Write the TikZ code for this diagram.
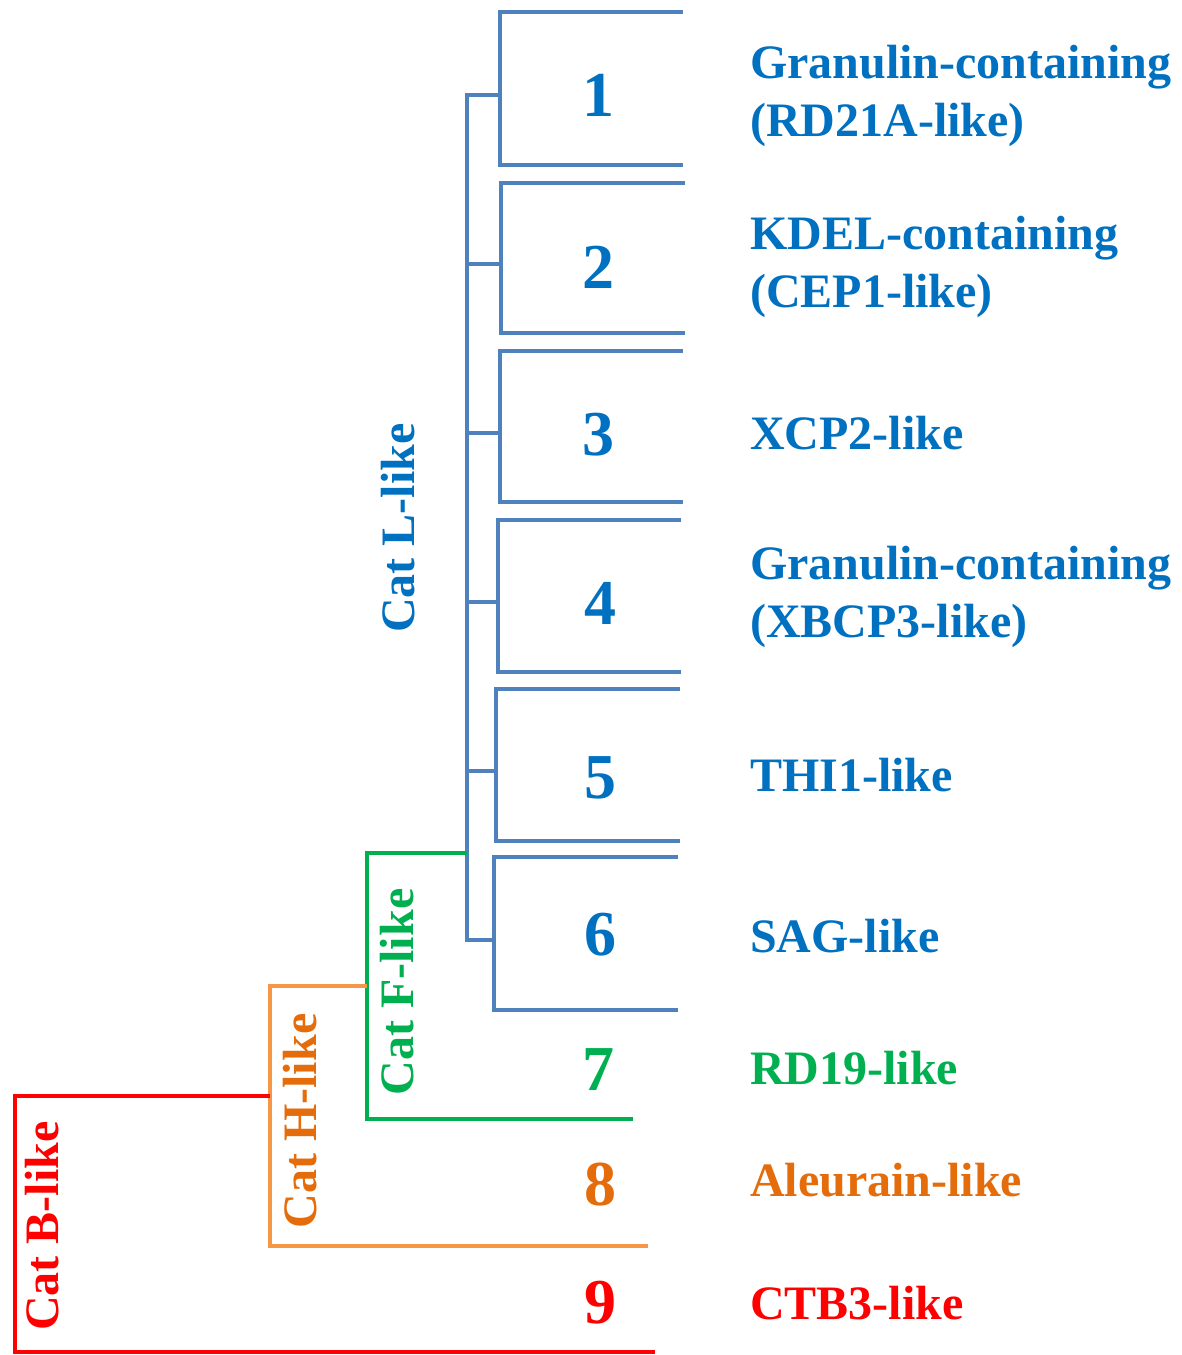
\documentclass[tikz,border=0pt]{standalone}
\usepackage{fontspec}
\setmainfont{Liberation Serif}
\definecolor{lnblue}{HTML}{4F81BD}
\definecolor{txblue}{HTML}{0070C0}
\definecolor{lngreen}{HTML}{00B050}
\definecolor{txgreen}{HTML}{00B050}
\definecolor{lnorange}{HTML}{F79646}
\definecolor{txorange}{HTML}{E46C0A}
\definecolor{lnred}{HTML}{FF0000}
\begin{document}
\begin{tikzpicture}[x=1pt,y=-1pt,
  branch/.style={line width=4.5pt},
  num/.style={font=\fontsize{64}{64}\selectfont\bfseries, inner sep=0},
  lab/.style={font=\fontsize{48}{58}\selectfont\bfseries, anchor=base west, align=left, inner sep=0},
  cat/.style={font=\fontsize{48}{48}\selectfont\bfseries, rotate=90, inner sep=0}]
\useasboundingbox (0,0) rectangle (1181,1355);

% blue clade boxes
\foreach \n/\xl/\yt/\yb/\xr/\ym in {1/500/12/165/683/95, 2/501/183/333/685/264, 3/500/351/502/683/433, 4/498/520/672/681/602, 5/496/689/841/680/771, 6/494/857/1010/678/940}{
  \coordinate (bt\n) at (\xr,\yt);
  \coordinate (bl\n) at (\xl,\yt);
  \coordinate (bb\n) at (\xl,\yb);
  \coordinate (br\n) at (\xr,\yb);
  \coordinate (bm\n) at (\xl,\ym);
  \coordinate (tm\n) at (467,\ym);
  \draw[branch,lnblue] (bt\n) -- (bl\n) -- (bb\n) -- (br\n);
  \draw[branch,lnblue] (tm\n) -- (bm\n);
}
% blue trunk
\coordinate (trunkT) at (467,93);
\coordinate (trunkB) at (467,942);
\draw[branch,lnblue] (trunkT) -- (trunkB);

% green clade
\coordinate (g0) at (467,853);
\coordinate (g1) at (367,853);
\coordinate (g2) at (367,1119);
\coordinate (g3) at (633,1119);
\draw[branch,lngreen] (g0) -- (g1) -- (g2) -- (g3);

% orange clade
\coordinate (o0) at (367,986);
\coordinate (o1) at (270,986);
\coordinate (o2) at (270,1246);
\coordinate (o3) at (648,1246);
\draw[branch,lnorange] (o0) -- (o1) -- (o2) -- (o3);

% red clade
\coordinate (r0) at (270,1096);
\coordinate (r1) at (15,1096);
\coordinate (r2) at (15,1352);
\coordinate (r3) at (655,1352);
\draw[line width=4pt,lnred] (r0) -- (r1) -- (r2) -- (r3);

% numbers
\node[num,txblue] (n1) at (598,95) {1};
\node[num,txblue] (n2) at (598,267) {2};
\node[num,txblue] (n3) at (598,435) {3};
\node[num,txblue] (n4) at (600,603) {4};
\node[num,txblue] (n5) at (600,778) {5};
\node[num,txblue] (n6) at (600,935) {6};
\node[num,txgreen] (n7) at (598,1070) {7};
\node[num,txorange] (n8) at (600,1185) {8};
\node[num,lnred] (n9) at (600,1303) {9};

% labels (base anchor = baseline of the last line)
\node[lab,txblue] (l1) at (750,136) {Granulin-containing\\(RD21A-like)};
\node[lab,txblue] (l2) at (750,307) {KDEL-containing\\(CEP1-like)};
\node[lab,txblue] (l3) at (750,449) {XCP2-like};
\node[lab,txblue] (l4) at (750,637) {Granulin-containing\\(XBCP3-like)};
\node[lab,txblue] (l5) at (750,791) {THI1-like};
\node[lab,txblue] (l6) at (750,952) {SAG-like};
\node[lab,txgreen] (l7) at (750,1084) {RD19-like};
\node[lab,txorange] (l8) at (750,1196) {Aleurain-like};
\node[lab,lnred] (l9) at (750,1319) {CTB3-like};

% clade names
\node[cat,txblue] (cL) at (398,528) {Cat L-like};
\node[cat,txgreen] (cF) at (397,992) {Cat F-like};
\node[cat,txorange] (cH) at (300,1121) {Cat H-like};
\node[cat,lnred] (cB) at (42,1226) {Cat B-like};
\end{tikzpicture}
\end{document}
